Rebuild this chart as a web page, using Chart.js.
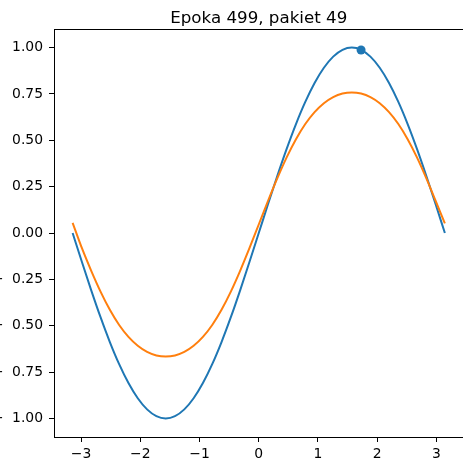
<!DOCTYPE html>
<html>
<head>
<meta charset="utf-8">
<script src="https://cdn.jsdelivr.net/npm/chart.js@4/dist/chart.umd.min.js"></script>
<style>
  html, body { margin: 0; padding: 0; background: #fff; overflow: hidden; }
  #wrap { position: relative; width: 463px; height: 459px; overflow: hidden; }
  #wykres { position: absolute; left: -20px; top: 0; }
</style>
</head>
<body>
<div id="wrap"><canvas id="wykres" width="488" height="459"></canvas></div>
<script>
const TYTUL = "Epoka 499, pakiet 49";

// punkty x od -pi do pi
const xs = [
  -3.1416, -2.9845, -2.8274, -2.6704, -2.5133, -2.3562, -2.1991, -2.0420, -1.8850, -1.7279,
  -1.5708, -1.4137, -1.2566, -1.0996, -0.9425, -0.7854, -0.6283, -0.4712, -0.3142, -0.1571,
  0, 0.1571, 0.3142, 0.4712, 0.6283, 0.7854, 0.9425, 1.0996, 1.2566, 1.4137,
  1.5708, 1.7279, 1.8850, 2.0420, 2.1991, 2.3562, 2.5133, 2.6704, 2.8274, 2.9845, 3.1416,
];

// funkcja docelowa
const cel = [
  0, -0.1564, -0.3090, -0.4540, -0.5878, -0.7071, -0.8090, -0.8910, -0.9511, -0.9877,
  -1, -0.9877, -0.9511, -0.8910, -0.8090, -0.7071, -0.5878, -0.4540, -0.3090, -0.1564,
  0, 0.1564, 0.3090, 0.4540, 0.5878, 0.7071, 0.8090, 0.8910, 0.9511, 0.9877,
  1, 0.9877, 0.9511, 0.8910, 0.8090, 0.7071, 0.5878, 0.4540, 0.3090, 0.1564, 0,
];

// odpowiedz sieci
const siec = [
  0.055, -0.082, -0.204, -0.316, -0.414, -0.496, -0.560, -0.608, -0.641, -0.660,
  -0.666, -0.660, -0.641, -0.608, -0.560, -0.496, -0.414, -0.316, -0.204, -0.082,
  0.046, 0.174, 0.296, 0.408, 0.506, 0.588, 0.652, 0.700, 0.733, 0.752,
  0.758, 0.752, 0.733, 0.700, 0.652, 0.588, 0.506, 0.408, 0.296, 0.174, 0.052,
];

// biezacy punkt z pakietu
const punktX = [1.727];
const punktY = [0.987];

const xTicks = [-3, -2, -1, 0, 1, 2, 3];
const yTicks = [-1.0, -0.75, -0.5, -0.25, 0, 0.25, 0.5, 0.75, 1.0];

const NIEBIESKI = "#1f77b4";
const POMARANCZ = "#ff7f0e";
const FONT = "'DejaVu Sans', sans-serif";

function pary(xx, yy) {
  return xx.map((x, i) => ({ x: x, y: yy[i] }));
}

function minus(s) {
  return s.replace("-", "\u2212");
}

// ramka osi (wszystkie cztery krawedzie)
const ramka = {
  id: "ramka",
  afterDatasetsDraw(chart) {
    const a = chart.chartArea;
    const ctx = chart.ctx;
    ctx.save();
    ctx.strokeStyle = "#000";
    ctx.lineWidth = 1;
    ctx.strokeRect(Math.round(a.left) + 0.5, Math.round(a.top) + 0.5,
      Math.round(a.right - a.left), Math.round(a.bottom - a.top));
    ctx.restore();
  },
};

new Chart(document.getElementById("wykres"), {
  type: "line",
  data: {
    datasets: [
      {
        data: pary(punktX, punktY),
        showLine: false,
        pointRadius: 4.5,
        pointBackgroundColor: NIEBIESKI,
        pointBorderWidth: 0,
      },
      {
        data: pary(xs, siec),
        borderColor: POMARANCZ,
        borderWidth: 2,
        pointRadius: 0,
        cubicInterpolationMode: "monotone",
      },
      {
        data: pary(xs, cel),
        borderColor: NIEBIESKI,
        borderWidth: 2,
        pointRadius: 0,
        cubicInterpolationMode: "monotone",
      },
    ],
  },
  options: {
    responsive: false,
    animation: false,
    layout: { padding: { left: 0, right: 4, top: 0, bottom: 0 } },
    plugins: {
      legend: { display: false },
      tooltip: { enabled: false },
      title: {
        display: true,
        text: TYTUL,
        fullSize: false,
        color: "#000",
        font: { family: FONT, size: 16.7, weight: "normal", lineHeight: 1.2 },
        padding: { top: 9, bottom: 0 },
      },
    },
    scales: {
      x: {
        type: "linear",
        min: -3.456,
        max: 3.456,
        afterFit(s) { s.height = 22; },
        afterBuildTicks(s) { s.ticks = xTicks.map((v) => ({ value: v })); },
        border: { display: false },
        grid: { drawOnChartArea: false, drawTicks: true, tickLength: 5, color: "#000", lineWidth: 1 },
        ticks: {
          color: "#000",
          padding: 4,
          maxRotation: 0,
          font: { family: FONT, size: 13.9 },
          callback: (v) => minus(String(v)),
        },
      },
      y: {
        type: "linear",
        min: -1.1,
        max: 1.1,
        afterFit(s) { s.width = 74; },
        afterBuildTicks(s) { s.ticks = yTicks.map((v) => ({ value: v })); },
        border: { display: false },
        grid: { drawOnChartArea: false, drawTicks: true, tickLength: 5, color: "#000", lineWidth: 1 },
        ticks: {
          color: "#000",
          padding: 6,
          font: { family: FONT, size: 13.9 },
          callback: (v) => (v < 0 ? "\u2212\u2002\u200A" + Math.abs(v).toFixed(2) : v.toFixed(2)),
        },
      },
    },
  },
  plugins: [ramka],
});
</script>
</body>
</html>
